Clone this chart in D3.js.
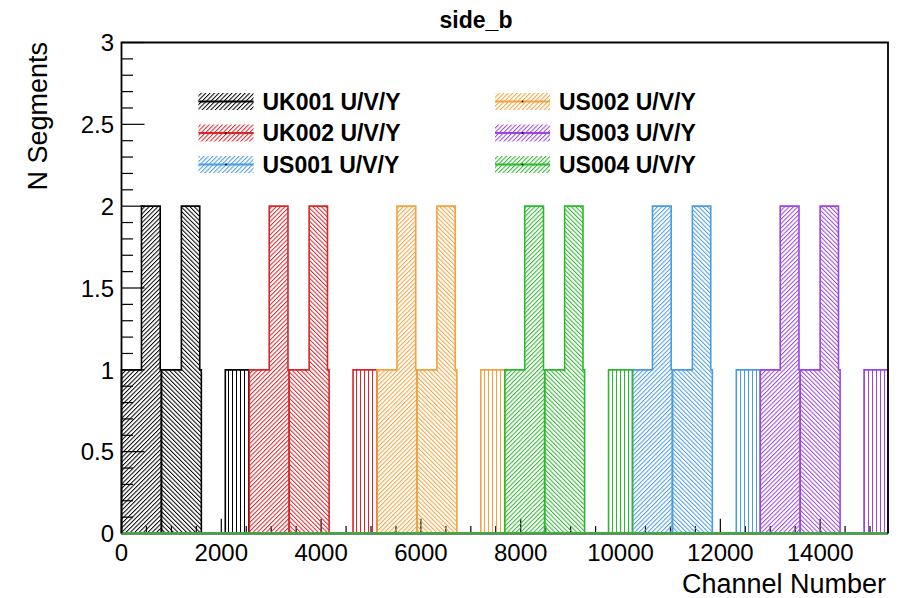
<!DOCTYPE html>
<html>
<head>
<meta charset="utf-8">
<script src="https://cdn.jsdelivr.net/npm/d3@7"></script>
<style>
  html, body { margin: 0; padding: 0; background: #fff; }
  svg { display: block; }
  text { font-family: "Liberation Sans", Arial, Helvetica, sans-serif; fill: #000; }
</style>
</head>
<body>
<svg id="chart" width="901" height="598"></svg>
<script>
// APA histograms of the number of wire segments per readout channel
const apaLabels = ["UK001 U/V/Y", "UK002 U/V/Y", "US001 U/V/Y", "US002 U/V/Y", "US003 U/V/Y", "US004 U/V/Y"];
const apaFirstChannel = [0, 2560, 10240, 5120, 12800, 7680];
const apaColors = ["#000000", "#d8262b", "#4a9be2", "#f2a23e", "#9a46de", "#2cb82c"];

// channel bin edges (offset within one APA) and segment counts, per plane
const uPlaneEdges = [0, 400, 776, 800];
const uPlaneSegments = [1, 2, 1];
const vPlaneEdges = [800, 1200, 1568, 1600];
const vPlaneSegments = [1, 2, 1];
const xPlaneEdges = [2080, 2560];
const xPlaneSegments = [1];

const channelRange = [0, 15360];
const segmentRange = [0, 3];
const xTickValues = [0, 2000, 4000, 6000, 8000, 10000, 12000, 14000];
const yTickValues = [0, 0.5, 1, 1.5, 2, 2.5, 3];
const yTickLabels = ["0", "0.5", "1", "1.5", "2", "2.5", "3"];

const svg = d3.select("#chart");
const frameL = 121.5, frameR = 888, frameT = 42.5, frameB = 533.5;

const x = d3.scaleLinear().domain(channelRange).range([frameL, frameR]);
const y = d3.scaleLinear().domain(segmentRange).range([frameB, frameT]);

// hatch patterns: "///" for U, "\\\" for V, vertical lines for the collection plane
const defs = svg.append("defs");
const hatchKinds = [
  { key: "u", angle: 45, size: 3.1 },
  { key: "v", angle: -45, size: 3.1 },
  { key: "x", angle: 0, size: 4 }
];
apaColors.forEach((c, i) => {
  hatchKinds.forEach(h => {
    const p = defs.append("pattern")
      .attr("id", `hatch-${h.key}-${i}`)
      .attr("patternUnits", "userSpaceOnUse")
      .attr("width", h.size).attr("height", h.size)
      .attr("patternTransform", `rotate(${h.angle})`);
    p.append("line")
      .attr("x1", 0.5).attr("x2", 0.5)
      .attr("y1", 0).attr("y2", h.size)
      .attr("stroke", c).attr("stroke-width", 1);
  });
});

// axis ticks (drawn under the histograms)
const axisG = svg.append("g");
axisG.append("line")
  .attr("x1", frameL).attr("x2", frameR).attr("y1", frameB).attr("y2", frameB)
  .attr("stroke", "#000").attr("stroke-width", 1.5);

const xMinor = d3.range(channelRange[0], channelRange[1] + 1, 500);
axisG.selectAll("line.xt").data(xMinor).enter().append("line")
  .attr("class", "xt")
  .attr("x1", d => x(d)).attr("x2", d => x(d))
  .attr("y1", frameB)
  .attr("y2", d => frameB - (d % 2000 === 0 ? 14.7 : 7.4))
  .attr("stroke", "#000").attr("stroke-width", 1.2);

const yMinor = d3.range(0, 31).map(k => k / 10);
axisG.selectAll("line.yt").data(yMinor).enter().append("line")
  .attr("class", "yt")
  .attr("x1", frameL).attr("y1", d => y(d)).attr("y2", d => y(d))
  .attr("x2", (d, k) => frameL + (k % 5 === 0 ? 23 : 11.5))
  .attr("stroke", "#000").attr("stroke-width", 1.2);

// histogram contour through all bins, baseline included
function contour(edges, counts, offset) {
  const pts = [[channelRange[0], 0], [offset + edges[0], 0]];
  counts.forEach((v, k) => {
    pts.push([offset + edges[k], v]);
    pts.push([offset + edges[k + 1], v]);
  });
  pts.push([offset + edges[edges.length - 1], 0]);
  pts.push([channelRange[1], 0]);
  return pts;
}
const line = d3.line().x(d => x(d[0])).y(d => y(d[1]));

const planes = [
  { key: "u", edges: uPlaneEdges, counts: uPlaneSegments },
  { key: "v", edges: vPlaneEdges, counts: vPlaneSegments },
  { key: "x", edges: xPlaneEdges, counts: xPlaneSegments }
];

const histG = svg.append("g");
apaLabels.forEach((name, i) => {
  planes.forEach(pl => {
    const pts = contour(pl.edges, pl.counts, apaFirstChannel[i]);
    histG.append("path")
      .attr("d", line(pts) + "Z")
      .attr("fill", `url(#hatch-${pl.key}-${i})`)
      .attr("stroke", "none");
    histG.append("path")
      .attr("d", line(pts))
      .attr("fill", "none")
      .attr("stroke", apaColors[i])
      .attr("stroke-width", 1.6)
      .attr("stroke-linejoin", "miter");
  });
});

// frame on top
svg.append("path")
  .attr("d", `M${frameL},${frameB}V${frameT}H${frameR}V${frameB}`)
  .attr("fill", "none").attr("stroke", "#000").attr("stroke-width", 1.8);

// tick labels
svg.selectAll("text.xl").data(xTickValues).enter().append("text")
  .attr("class", "xl")
  .attr("x", d => x(d)).attr("y", 561)
  .attr("text-anchor", "middle")
  .attr("font-size", 24)
  .text(d => String(d));

svg.selectAll("text.yl").data(yTickValues).enter().append("text")
  .attr("class", "yl")
  .attr("x", 114).attr("y", d => y(d) + 8.8)
  .attr("text-anchor", "end")
  .attr("font-size", 24)
  .text((d, k) => yTickLabels[k]);

// axis titles and plot title
svg.append("text")
  .attr("x", 886).attr("y", 593)
  .attr("text-anchor", "end")
  .attr("font-size", 27)
  .text("Channel Number");

svg.append("text")
  .attr("transform", "translate(47,42) rotate(-90)")
  .attr("text-anchor", "end")
  .attr("font-size", 27)
  .text("N Segments");

svg.append("text")
  .attr("x", 476).attr("y", 28)
  .attr("text-anchor", "middle")
  .attr("font-size", 23)
  .attr("font-weight", "bold")
  .text("side_b");

// legend, two columns of three
const legG = svg.append("g");
apaLabels.forEach((name, i) => {
  const col = Math.floor(i / 3), row = i % 3;
  const bx = col === 0 ? 198.5 : 495;
  const cy = 101.5 + row * 31.5;
  const g = legG.append("g");
  g.append("rect")
    .attr("x", bx).attr("y", cy - 8.5)
    .attr("width", 55).attr("height", 17)
    .attr("fill", `url(#hatch-u-${i})`);
  g.append("line")
    .attr("x1", bx).attr("x2", bx + 55)
    .attr("y1", cy).attr("y2", cy)
    .attr("stroke", apaColors[i]).attr("stroke-width", 2);
  g.append("circle")
    .attr("cx", bx + 27.5).attr("cy", cy).attr("r", 1)
    .attr("fill", "#000");
  g.append("text")
    .attr("x", bx + 64).attr("y", cy + 8.3)
    .attr("font-size", 23)
    .attr("font-weight", "bold")
    .text(name);
});
</script>
</body>
</html>
